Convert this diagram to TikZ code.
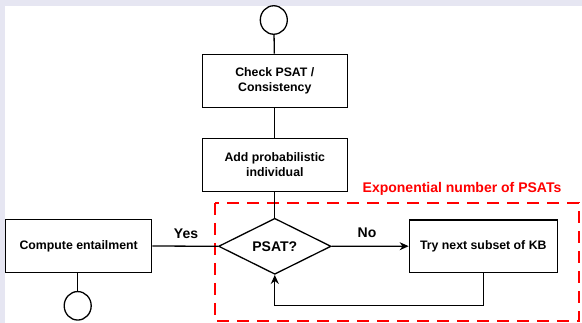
\documentclass[tikz,border=0pt]{standalone}
\usepackage{fontspec}
\setmainfont{Liberation Sans}
\usetikzlibrary{shapes.geometric,arrows.meta,positioning}
\definecolor{frame}{HTML}{E6E6F2}
\definecolor{alertred}{HTML}{FF0000}
\tikzset{
  box/.style={draw=black, line width=1.3pt, rectangle, fill=white,
    minimum width=145pt, minimum height=53pt, inner sep=0pt, align=center,
    font=\fontsize{12.3}{14.5}\selectfont\bfseries},
  term/.style={draw=black, line width=1.3pt, ellipse, fill=white,
    minimum width=27pt, minimum height=28.5pt, inner sep=0pt},
  decision/.style={draw=black, line width=1.3pt, diamond, fill=white,
    minimum width=112.5pt, minimum height=56pt, inner sep=0pt, aspect=2,
    font=\fontsize{14}{16}\selectfont\bfseries},
  link/.style={draw=black, line width=1.3pt},
  flow/.style={link, -{Stealth[length=9pt,width=8pt]}},
  edgelabel/.style={font=\fontsize{14}{16}\selectfont\bfseries},
  region/.style={draw=alertred, line width=1.5pt, dash pattern=on 12pt off 8pt},
  regionlabel/.style={text=alertred, font=\fontsize{14}{16}\selectfont\bfseries}
}
\begin{document}
\begin{tikzpicture}[x=1pt,y=-1pt]
  % page background with its lavender margin
  \fill[frame] (0,0) rectangle (582,323);
  \fill[white] (4.7,6) rectangle (582,323);
  \useasboundingbox (0,0) rectangle (582,323);

  % region of repeated PSAT checks
  \draw[region] (215,203) rectangle (579,321);
  \node[regionlabel] (regiontitle) at (462,188.5) {Exponential number of PSATs};

  % flow nodes
  \node[term] (start) at (273.8,20) {};
  \node[box] (check) at (274.8,80.8) {Check PSAT /\\Consistency};
  \node[box] (add) at (274.8,164.7) {Add probabilistic\\individual};
  \node[decision] (psat) at (274.8,246.3) {PSAT?};
  \node[box, minimum width=146pt] (compute) at (78.7,246) {Compute entailment};
  \node[box, minimum width=148pt, minimum height=52.5pt] (try) at (483.3,246.2) {Try next subset of KB};
  \node[term] (stop) at (77.7,305.8) {};

  % connectors
  \draw[link] (start) -- (check);
  \draw[link] (check) -- (add);
  \draw[link] (add) -- (psat);
  \draw[link] (psat.west) -- (compute.east);
  \draw[link] (compute.south -| stop) -- (stop);
  \draw[flow] (psat.east) -- (try.west);
  \coordinate (loopcorner) at (483.3,305.7);
  \draw[flow] (try.south) -- (loopcorner) -| (psat.south);

  % branch labels
  \node[edgelabel] (yes) at (186,234) {Yes};
  \node[edgelabel] (no) at (367,233) {No};
\end{tikzpicture}
\end{document}
